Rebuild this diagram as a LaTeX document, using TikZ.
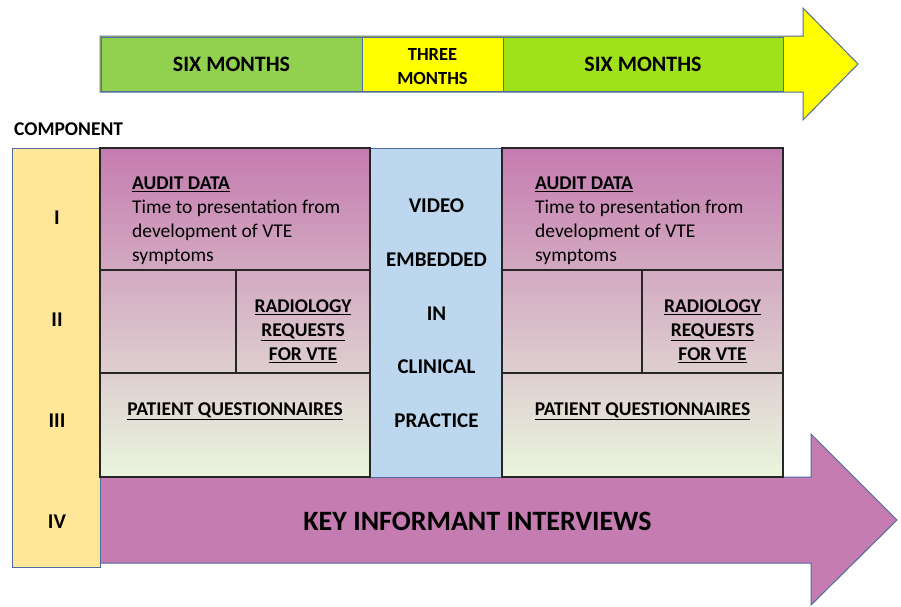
\documentclass[tikz,border=0pt]{standalone}
\usepackage{fontspec}
\setmainfont{Carlito}
\usepackage{xcolor}

\definecolor{grassgreen}{RGB}{146,208,80}
\definecolor{limebar}{RGB}{160,226,26}
\definecolor{baryellow}{RGB}{255,255,0}
\definecolor{sand}{RGB}{255,230,153}
\definecolor{videoblue}{RGB}{189,215,238}
\definecolor{mauve}{RGB}{197,124,176}
\definecolor{paleleaf}{RGB}{234,246,222}
\definecolor{edgeblue}{RGB}{79,108,160}
\definecolor{boxedge}{RGB}{38,38,38}

\newcommand{\headfont}{\fontsize{22}{26}\selectfont\bfseries}
\newcommand{\boxfont}{\fontsize{19.5}{23.8}\selectfont}

\begin{document}
\begin{tikzpicture}[x=1pt,y=-1pt,
	thin edge/.style={draw=edgeblue, line width=1pt},
	box edge/.style={draw=boxedge, line width=1.3pt}]
	\useasboundingbox (0,0) rectangle (901,606);

		%draw time arrow
		\filldraw[thin edge, fill=baryellow] (100,36) -- (803,36) -- (803,8) -- (858,64) -- (803,120) -- (803,92) -- (100,92) -- cycle;
		\filldraw[thin edge, fill=grassgreen] (101,37) rectangle (362,91);
		\filldraw[thin edge, fill=baryellow] (362,37) rectangle (503,91);
		\filldraw[thin edge, fill=limebar] (503,37) rectangle (783,91);

		%draw interview arrow
		\filldraw[thin edge, fill=mauve] (100,477) -- (811,477) -- (811,434) -- (897,520) -- (811,605) -- (811,563) -- (100,563) -- cycle;

		%draw component and video columns
		\filldraw[thin edge, fill=sand] (12,148) rectangle (100,567);
		\filldraw[thin edge, fill=videoblue] (370,148) rectangle (502,477);

		%draw shaded boxes
		\foreach \a/\s/\b in {100/236/370, 502/642/783}
		{
		\shade[top color=mauve, bottom color=mauve!63!paleleaf] (\a,148) rectangle (\b,270);
		\shade[top color=mauve!63!paleleaf, bottom color=mauve!32!paleleaf] (\a,270) rectangle (\b,373);
		\shade[top color=mauve!32!paleleaf, bottom color=paleleaf] (\a,373) rectangle (\b,477);
		\draw[box edge] (\a,148) rectangle (\b,477);
		\draw[box edge] (\a,270) -- (\b,270) (\a,373) -- (\b,373) (\s,270) -- (\s,373);
		}

		%periods
		\node[font=\headfont] (sixA) at (231.5,64.5) {SIX MONTHS};
		\node[align=center, font=\fontsize{18.5}{23.3}\selectfont\bfseries] (threeM) at (432.5,66.7) {THREE\\MONTHS};
		\node[font=\headfont] (sixB) at (643,64.5) {SIX MONTHS};

		%components
		\node[anchor=west, inner sep=0, font=\fontsize{19.5}{23}\selectfont\bfseries] (comp) at (14,129.3) {COMPONENT};
		\node[font=\fontsize{21}{25}\selectfont\bfseries] (one) at (57,218) {I};
		\node[font=\fontsize{21}{25}\selectfont\bfseries] (two) at (57,320) {II};
		\node[font=\fontsize{21}{25}\selectfont\bfseries] (three) at (57,421) {III};
		\node[font=\fontsize{21}{25}\selectfont\bfseries] (four) at (57,522) {IV};

		%box texts (base is the last line)
		\node[anchor=base west, align=left, inner sep=0, font=\boxfont] (auditL) at (132,261) {\textbf{\underline{AUDIT DATA}}\\Time to presentation from\\development of VTE\\symptoms};
		\node[anchor=base west, align=left, inner sep=0, font=\boxfont] (auditR) at (535,261) {\textbf{\underline{AUDIT DATA}}\\Time to presentation from\\development of VTE\\symptoms};
		\node[anchor=base, align=center, inner sep=0, font=\boxfont\bfseries] (radioL) at (303,360.5) {\underline{RADIOLOGY}\\\underline{REQUESTS}\\\underline{FOR VTE}};
		\node[anchor=base, align=center, inner sep=0, font=\boxfont\bfseries] (radioR) at (712.5,360.5) {\underline{RADIOLOGY}\\\underline{REQUESTS}\\\underline{FOR VTE}};
		\node[anchor=base, inner sep=0, font=\boxfont\bfseries] (patientL) at (235,415) {\underline{PATIENT QUESTIONNAIRES}};
		\node[anchor=base, inner sep=0, font=\boxfont\bfseries] (patientR) at (642.5,415) {\underline{PATIENT QUESTIONNAIRES}};

		\node[align=center, font=\fontsize{21}{53.7}\selectfont\bfseries] (video) at (436.5,313.4) {VIDEO\\EMBEDDED\\IN\\CLINICAL\\PRACTICE};
		\node[font=\fontsize{28}{32}\selectfont\bfseries] (key) at (477.5,521) {KEY INFORMANT INTERVIEWS};

\end{tikzpicture}
\end{document}
